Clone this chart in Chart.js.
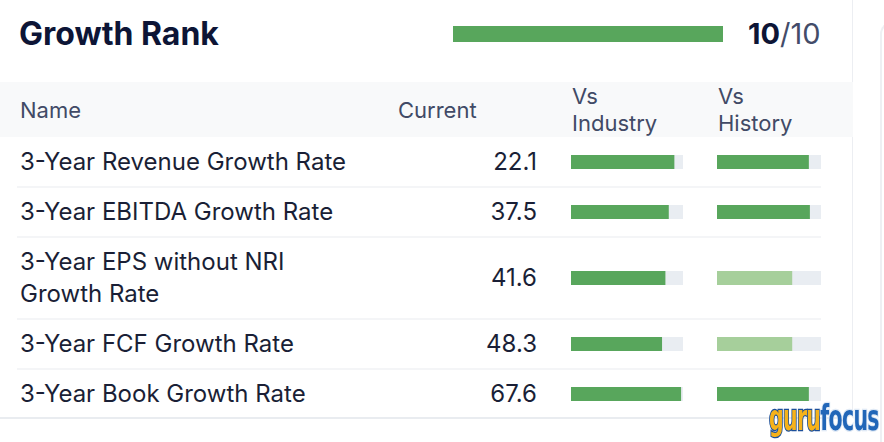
<!DOCTYPE html>
<html>
<head>
<meta charset="utf-8">
<script src="https://cdn.jsdelivr.net/npm/chart.js@4.4.1/dist/chart.umd.min.js"></script>
<style>
  html, body { margin: 0; padding: 0; background: #fff; }
  body { width: 884px; height: 442px; position: relative; overflow: hidden; font-family: Inter, "Noto Sans", sans-serif; }
  .abs { position: absolute; white-space: nowrap; }
  .card { position: absolute; left: -20px; top: -20px; width: 872px; height: 437px; border-right: 1px solid #eceef2; border-bottom: 2px solid #e9ecf0; border-radius: 0 0 10px 0; }
  .next-card { position: absolute; left: 880px; top: 22px; width: 40px; height: 440px; border-left: 2px solid #eef0f3; border-top: 2px solid #eef0f3; border-radius: 12px 0 0 0; }
  .title { left: 19px; top: 14px; font-size: 32px; font-weight: 700; color: #0d1536; line-height: 40px; }
  .score { left: 748px; top: 14px; font-size: 29px; line-height: 40px; color: #434c69; }
  .score b { color: #0d1536; font-weight: 700; }
  .head-bg { position: absolute; left: 0; top: 82px; width: 853px; height: 55px; background: #f8f9fa; }
  .head { font-size: 22px; color: #414a66; line-height: 27px; }
  .label { left: 20px; font-size: 24px; color: #1a1f36; line-height: 32px; }
  .val { font-size: 24px; color: #1a1f36; line-height: 32px; text-align: right; width: 120px; left: 417px; }
  .sep { position: absolute; left: 17px; width: 804px; height: 2px; background: #f4f5f7; }
  .cell { position: absolute; }
  .logo { left: 769px; top: 398px; font-family: "DejaVu Sans Condensed", "DejaVu Sans", sans-serif; font-weight: 700; font-size: 35px; line-height: 40px; letter-spacing: -1px; transform: scaleX(0.65); transform-origin: 0 50%; -webkit-text-stroke: 2.5px #1c4f9a; paint-order: stroke fill; }
  .logo .g { color: #f6b21a; }
  .logo .f { color: #2166b8; -webkit-text-stroke: 2.5px #dfe9f5; }
</style>
</head>
<body>
<div class="card"></div>
<div class="next-card"></div>
<div class="head-bg"></div>
<div id="root"></div>
<script>
// rang global
const rankValue = 10;
const rankMax = 10;

// files de la taula
const metricNames = [
  ['3-Year Revenue Growth Rate'],
  ['3-Year EBITDA Growth Rate'],
  ['3-Year EPS without NRI', 'Growth Rate'],
  ['3-Year FCF Growth Rate'],
  ['3-Year Book Growth Rate']
];
const currentValues = [22.1, 37.5, 41.6, 48.3, 67.6];
const vsIndustry = [92, 87, 84, 81, 98];   // percentil (0-100)
const vsHistory = [88, 89, 72, 72, 88];
const headers = ['Name', 'Current', ['Vs', 'Industry'], ['Vs', 'History']];

const GREEN = '#58a65c';
const LIGHT_GREEN = '#a6cf9b';
const TRACK = '#e9edf2';

const root = document.getElementById('root');

function addDiv(cls, html, styles) {
  const d = document.createElement('div');
  d.className = cls;
  d.innerHTML = html;
  Object.assign(d.style, styles || {});
  root.appendChild(d);
  return d;
}

// capçalera
addDiv('abs title', 'Growth Rank');
addDiv('abs score', '<b>' + rankValue + '</b>/' + rankMax);
addDiv('abs head', headers[0], { left: '20px', top: '97px' });
addDiv('abs head', headers[1], { left: '398px', top: '97px' });
addDiv('abs head', headers[2].join('<br>'), { left: '572px', top: '83px' });
addDiv('abs head', headers[3].join('<br>'), { left: '718px', top: '83px' });

// posicions verticals de les files
const rowCenters = [162, 212, 278, 344, 394];
const rowSeps = [187, 237, 319, 369];

rowSeps.forEach(y => {
  const s = document.createElement('div');
  s.className = 'sep';
  s.style.top = (y - 1) + 'px';
  root.appendChild(s);
});

// gràfic de barra petita (una sola barra amb pista de fons)
function crearBarra(x, y, w, h, value, max, color) {
  const c = document.createElement('canvas');
  c.className = 'cell';
  c.width = w; c.height = h;
  c.style.left = x + 'px';
  c.style.top = y + 'px';
  c.style.width = w + 'px';
  c.style.height = h + 'px';
  root.appendChild(c);
  new Chart(c.getContext('2d'), {
    type: 'bar',
    data: {
      labels: [''],
      datasets: [
        { data: [value], backgroundColor: color, order: 0 },
        { data: [max], backgroundColor: TRACK, order: 1 }
      ]
    },
    options: {
      indexAxis: 'y',
      responsive: false,
      animation: false,
      events: [],
      layout: { padding: 0 },
      datasets: { bar: { grouped: false, barPercentage: 1, categoryPercentage: 1, borderWidth: 0 } },
      plugins: { legend: { display: false }, tooltip: { enabled: false } },
      scales: {
        x: { display: false, min: 0, max: max },
        y: { display: false }
      }
    }
  });
}

// barra del rang
crearBarra(453, 26, 270, 16, rankValue, rankMax, GREEN);

metricNames.forEach((name, i) => {
  const cy = rowCenters[i];
  const lines = name.length;
  addDiv('abs label', name.join('<br>'), { top: (cy - 16 * lines) + 'px' });
  addDiv('abs val', currentValues[i].toFixed(1), { top: (cy - 16) + 'px' });
  crearBarra(571, cy - 7, 112, 14, vsIndustry[i], 100, vsIndustry[i] >= 80 ? GREEN : LIGHT_GREEN);
  crearBarra(717, cy - 7, 104, 14, vsHistory[i], 100, vsHistory[i] >= 80 ? GREEN : LIGHT_GREEN);
});

addDiv('abs logo', '<span class="g">guru</span><span class="f">focus</span>');
</script>
</body>
</html>
